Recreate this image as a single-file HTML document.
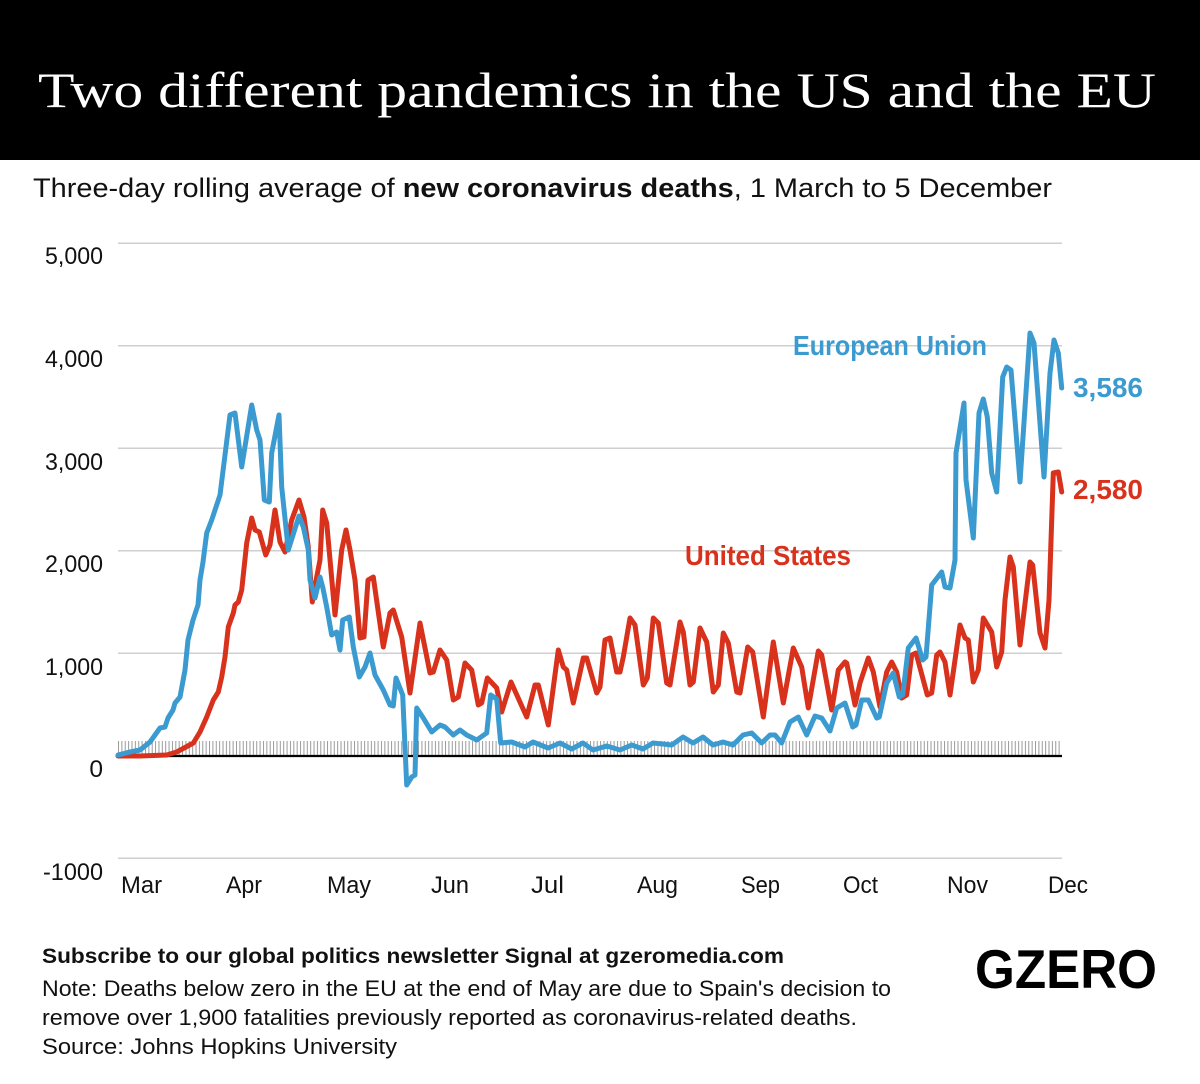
<!DOCTYPE html>
<html><head><meta charset="utf-8">
<style>
html,body{margin:0;padding:0;background:#fff;}
svg{display:block;}
</style></head>
<body>
<svg width="1200" height="1084" viewBox="0 0 1200 1084" xmlns="http://www.w3.org/2000/svg">
<defs>
<pattern id="tk" patternUnits="userSpaceOnUse" x="118" y="741" width="3.3714" height="16">
<rect x="0" y="0" width="1" height="16" fill="#9a9a9a"/>
</pattern>
</defs>
<rect x="0" y="0" width="1200" height="160" fill="#000"/>
<text x="38" y="107" font-family="'Liberation Serif', serif" font-size="50" fill="#fff" textLength="1118" lengthAdjust="spacingAndGlyphs">Two different pandemics in the US and the EU</text>
<text x="33" y="197" font-family="'Liberation Sans', sans-serif" font-size="27" fill="#111" textLength="1019" lengthAdjust="spacingAndGlyphs">Three-day rolling average of <tspan font-weight="bold">new coronavirus deaths</tspan>, 1 March to 5 December</text>

<g stroke="#cfcfcf" stroke-width="1.5">
<line x1="118" y1="243.3" x2="1062" y2="243.3"/>
<line x1="118" y1="345.7" x2="1062" y2="345.7"/>
<line x1="118" y1="448.3" x2="1062" y2="448.3"/>
<line x1="118" y1="550.7" x2="1062" y2="550.7"/>
<line x1="118" y1="653.3" x2="1062" y2="653.3"/>
<line x1="118" y1="858.3" x2="1062" y2="858.3"/>
</g>
<rect x="118" y="741" width="944" height="15" fill="url(#tk)"/>
<line x1="118" y1="756" x2="1062" y2="756" stroke="#000" stroke-width="2.2"/>

<g font-family="'Liberation Sans', sans-serif" font-size="24.5" fill="#111" text-anchor="end">
<text x="103" y="264" textLength="58" lengthAdjust="spacingAndGlyphs">5,000</text>
<text x="103" y="367" textLength="58" lengthAdjust="spacingAndGlyphs">4,000</text>
<text x="103" y="470" textLength="58" lengthAdjust="spacingAndGlyphs">3,000</text>
<text x="103" y="572" textLength="58" lengthAdjust="spacingAndGlyphs">2,000</text>
<text x="103" y="675" textLength="58" lengthAdjust="spacingAndGlyphs">1,000</text>
<text x="103" y="777">0</text>
<text x="103" y="880" textLength="60" lengthAdjust="spacingAndGlyphs">-1000</text>
</g>
<g font-family="'Liberation Sans', sans-serif" font-size="24.5" fill="#111">
<text x="121" y="893" textLength="41" lengthAdjust="spacingAndGlyphs">Mar</text>
<text x="226" y="893" textLength="36" lengthAdjust="spacingAndGlyphs">Apr</text>
<text x="327" y="893" textLength="44" lengthAdjust="spacingAndGlyphs">May</text>
<text x="431" y="893" textLength="38" lengthAdjust="spacingAndGlyphs">Jun</text>
<text x="531" y="893" textLength="33" lengthAdjust="spacingAndGlyphs">Jul</text>
<text x="637" y="893" textLength="41" lengthAdjust="spacingAndGlyphs">Aug</text>
<text x="741" y="893" textLength="39" lengthAdjust="spacingAndGlyphs">Sep</text>
<text x="843" y="893" textLength="35" lengthAdjust="spacingAndGlyphs">Oct</text>
<text x="947" y="893" textLength="41" lengthAdjust="spacingAndGlyphs">Nov</text>
<text x="1048" y="893" textLength="40" lengthAdjust="spacingAndGlyphs">Dec</text>
</g>

<polyline fill="none" stroke="#d8311c" stroke-width="5" stroke-linejoin="round" stroke-linecap="round" points="118,756 140,756 166.7,755 176.7,752 193.3,743 200,732 206.7,717 213.3,700 218.3,692 221.7,677 225,657 228.3,627 233.3,613 235,605 238.3,602 241.7,590 246.7,543 251.7,518 255,530 259.3,532 265.7,555 270,545 275,510 280,542 285,552 291.7,520 299,500 304,517 308.3,547 312.3,602 316.7,577 320,560 322.7,510 326.7,523 335,615 341.7,550 346,530 350,550 355,580 360,638 364,637 368,580 373.3,577 383.3,647 390,613 393.3,610 401.7,637 410,693 420,623 430,673 433.3,672 440,650 446.7,660 453.3,700 458.3,697 465,663 471.7,670 478.3,705 481.7,703 487.3,678 496.7,688 501.7,712 511,682 526.7,717 535,685 538.3,685 548.3,725 558.3,650 563.3,667 566.7,670 573.3,703 583.3,658 586.7,658 596.7,693 600,687 605,640 610,638 616.7,672 620,672 623.3,657 630,618 635,625 643.3,685 647.3,678 653.3,618 658.3,623 666.7,683 670,685 680,622 683.3,632 690,685 693.3,682 700,628 706.7,642 713.3,692 718.3,685 723.3,633 728.3,643 736.7,692 740,693 747.7,647 752.7,652 763.3,717 773.3,642 783.3,703 793.3,648 801.7,667 808.3,708 818.3,651 821.7,655 831.7,710 838.3,670 845,662 846.7,663 855,705 860,683 868.3,658 873.3,672 880,707 886.7,672 891.7,662 896.7,672 901.7,698 906.7,695 911.7,655 916,653 927.3,695 931.7,693 936.7,655 940,652 945,662 950,695 955,660 960,625 965,638 968.3,640 973.3,682 978.3,670 983.3,618 991.7,632 996.7,667 1001.7,652 1005,600 1010,557 1013.3,567 1020,645 1030,562 1032.7,565 1040,633 1045,648 1049,600 1053.3,473 1058.3,472 1061.7,492"/>

<polyline fill="none" stroke="#3b9bd0" stroke-width="5" stroke-linejoin="round" stroke-linecap="round" points="118,755 130,752 140,750 150,742 160,728 165,727 168,718 173,710 175,703 180,697 185,670 188,640 193,620 198,605 200,580 203,562 206.7,533 211.7,520 220,495 230,415 235,413 241.7,467 251.7,405 256.7,430 260,440 264.3,500 269.3,502 271.7,453 279,415 281.7,487 288.3,550 299,516 303.3,527 308.3,550 310,580 315,598 320,577 322.7,587 326.7,607 331.7,635 336.7,632 340,650 342.7,620 349.3,617 353.3,647 359.3,677 365,667 370,653 375,675 383.3,690 390,705 393.3,706 396,678 402.7,695 406.7,785 411.7,777 415,775 416.7,708 423.3,718 431.7,732 440,725 445,727 453.3,735 460,730 466.7,735 476.7,740 486.7,733 490.7,695 496.7,699 500.7,743 511.7,742 525,747 533,742 548,748 560,743 571.7,749 583,743 593,750 606.7,746 620,750 631.7,745 643,749 653,743 663,744 671.7,745 683,737 693,743 703,737 713,745 723,742 733,745 743,735 751.7,733 761.7,743 770,735 775,735 781.7,743 790,722 798.3,717 806.7,735 815,716 821.7,718 830,731 836.7,708 845,703 852.7,727 856,725 861.7,700 868.3,700 876.7,718 879.3,717 886.7,683 893.3,673 899.3,697 902.7,695 908.3,648 916,638 922.7,660 926,657 931.7,585 941.7,572 945,587 950,588 955,560 956,453 964,403 966,480 973.3,538 979,413 983.3,399 987.3,417 991.7,473 996.7,492 1002.7,377 1006.7,367 1011,370 1020,482 1030,333 1034,343 1044,477 1050,373 1054,340 1058.3,353 1061.7,388"/>

<g font-family="'Liberation Sans', sans-serif" font-weight="bold" font-size="28">
<text x="793" y="355" fill="#3b9bd0" textLength="194" lengthAdjust="spacingAndGlyphs">European Union</text>
<text x="685" y="565" fill="#d8311c" textLength="166" lengthAdjust="spacingAndGlyphs">United States</text>
<text x="1073" y="397" fill="#3b9bd0" textLength="70" lengthAdjust="spacingAndGlyphs">3,586</text>
<text x="1073" y="499" fill="#d8311c" textLength="70" lengthAdjust="spacingAndGlyphs">2,580</text>
</g>

<g font-family="'Liberation Sans', sans-serif" fill="#111">
<text x="42" y="963" font-size="21" font-weight="bold" textLength="742" lengthAdjust="spacingAndGlyphs">Subscribe to our global politics newsletter Signal at gzeromedia.com</text>
<text x="42" y="996" font-size="22" textLength="849" lengthAdjust="spacingAndGlyphs">Note: Deaths below zero in the EU at the end of May are due to Spain's decision to</text>
<text x="42" y="1025" font-size="22" textLength="815" lengthAdjust="spacingAndGlyphs">remove over 1,900 fatalities previously reported as coronavirus-related deaths.</text>
<text x="42" y="1054" font-size="22" textLength="355" lengthAdjust="spacingAndGlyphs">Source: Johns Hopkins University</text>
</g>
<text x="975" y="988" font-family="'Liberation Sans', sans-serif" font-weight="bold" font-size="55" fill="#000" textLength="182" lengthAdjust="spacingAndGlyphs">GZERO</text>
</svg>
</body></html>
